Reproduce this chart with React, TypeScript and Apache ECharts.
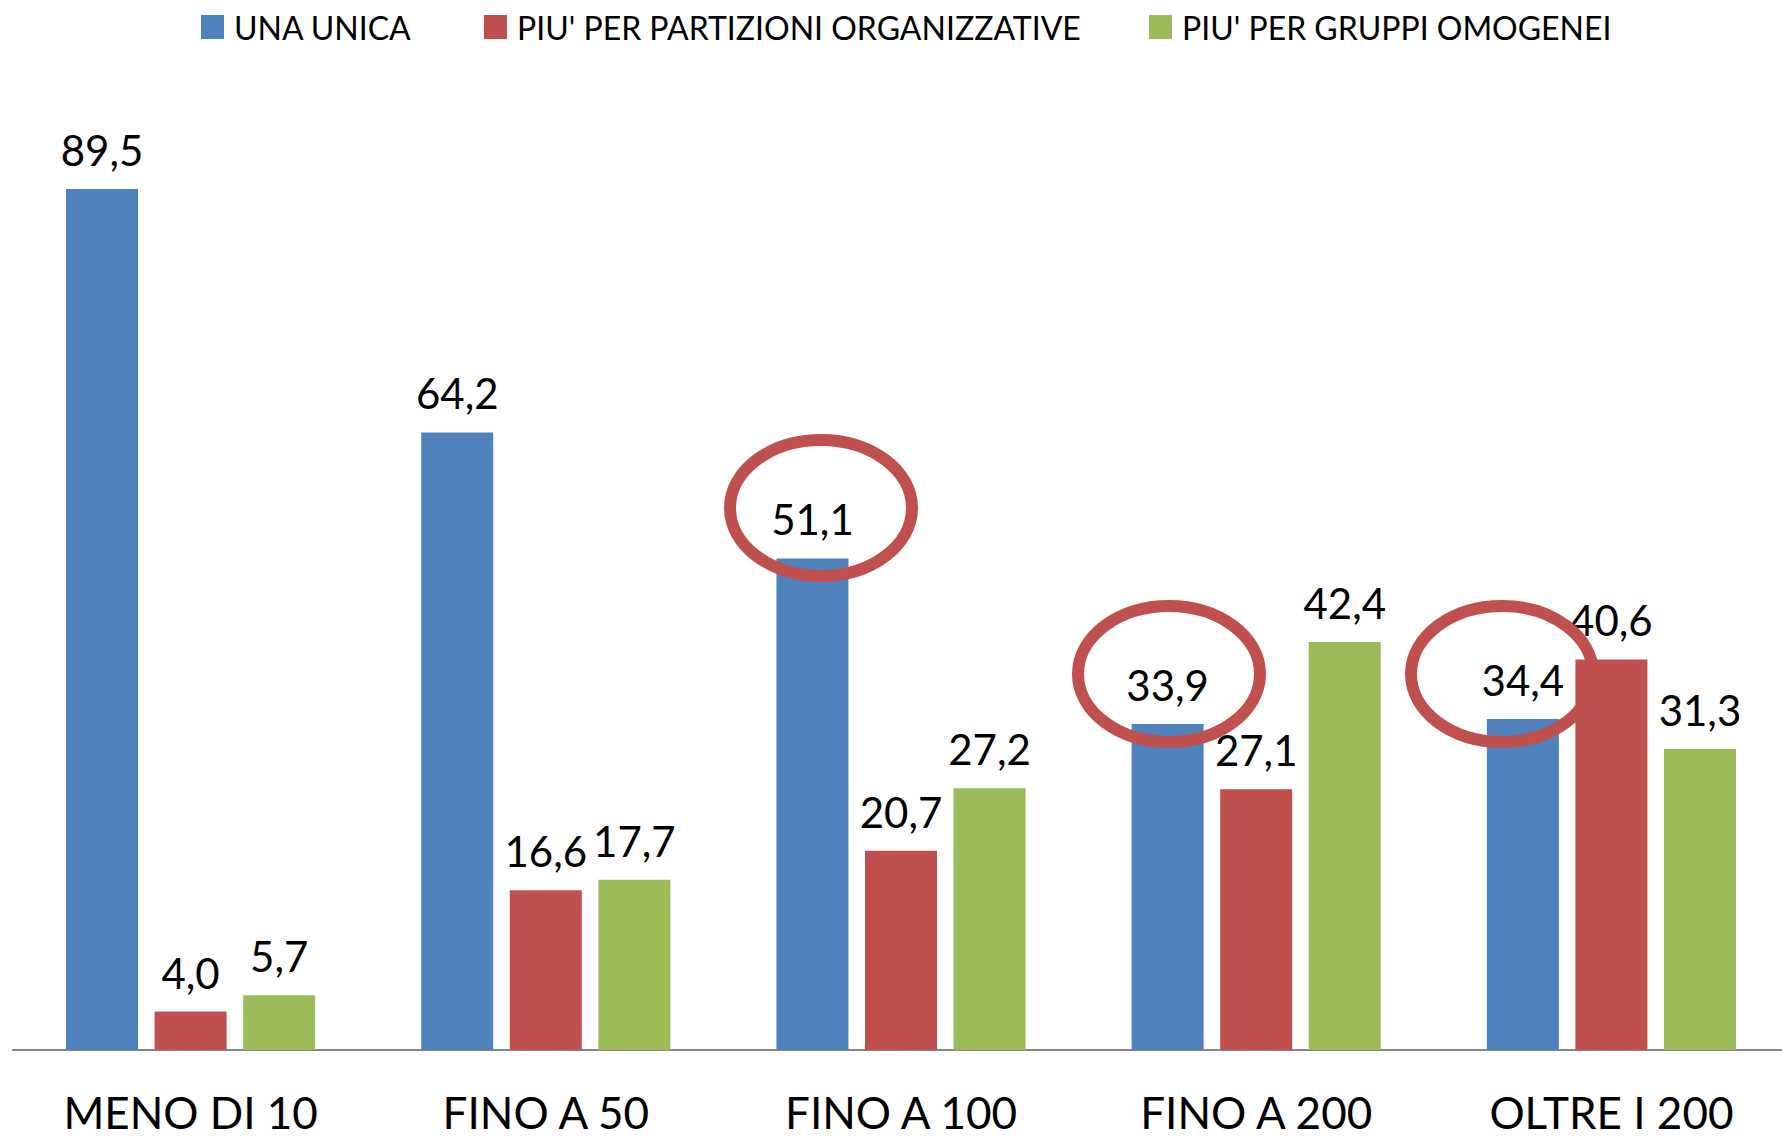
import React, { useEffect, useRef } from "react";
import * as echarts from "echarts";

const categories = ["MENO DI 10", "FINO A 50", "FINO A 100", "FINO A 200", "OLTRE I 200"];
const seriesNames = ["UNA UNICA", "PIU' PER PARTIZIONI ORGANIZZATIVE", "PIU' PER GRUPPI OMOGENEI"];
const unaUnica = [89.5, 64.2, 51.1, 33.9, 34.4];
const partizioni = [4.0, 16.6, 20.7, 27.1, 40.6];
const gruppi = [5.7, 17.7, 27.2, 42.4, 31.3];
const colors = ["#4F81BD", "#C0504D", "#9BBB59"];

const FONT = "Lato, 'Noto Sans', sans-serif";

export default function App() {
  const ref = useRef<HTMLDivElement>(null);
  useEffect(() => {
    if (!ref.current) return;
    const chart = echarts.init(ref.current, undefined, { renderer: "svg" });
    const values = [unaUnica, partizioni, gruppi];
    const legendLefts = [201, 484, 1149];
    const ellipses = [
      { cx: 821, cy: 508 },
      { cx: 1169, cy: 674 },
      { cx: 1502, cy: 674 },
    ];
    chart.setOption({
      animation: false,
      backgroundColor: "#ffffff",
      legend: seriesNames.map((n, i) => ({
        data: [n],
        left: legendLefts[i],
        top: 11,
        padding: 0,
        icon: "rect",
        itemWidth: 23,
        itemHeight: 24,
        selectedMode: false,
        textStyle: {
          fontFamily: FONT,
          fontSize: 32,
          lineHeight: 32,
          color: "#000",
          padding: [0, 0, 0, 5],
        },
      })),
      grid: { left: 13, top: 88, width: 1776, height: 962, containLabel: false },
      xAxis: {
        type: "category",
        data: categories,
        axisLine: { show: true, lineStyle: { color: "#868686", width: 2 } },
        axisTick: { show: false },
        axisLabel: {
          fontFamily: FONT,
          fontSize: 44,
          lineHeight: 40,
          color: "#000",
          margin: 42,
          interval: 0,
        },
      },
      yAxis: {
        type: "value",
        min: 0,
        max: 100,
        show: false,
        splitLine: { show: false },
      },
      series: seriesNames.map((n, i) => ({
        name: n,
        type: "bar",
        data: values[i],
        barWidth: 72,
        barGap: "23%",
        itemStyle: { color: colors[i] },
        label: {
          show: true,
          position: "top",
          distance: 18,
          fontFamily: FONT,
          fontSize: 42,
          color: "#000",
          formatter: (p: any) => Number(p.value).toFixed(1).replace(".", ","),
        },
      })),
      graphic: ellipses.map((e) => ({
        type: "ellipse",
        shape: { cx: e.cx, cy: e.cy, rx: 91, ry: 68 },
        style: { fill: "none", stroke: "#C0504D", lineWidth: 12 },
        z: 100,
      })),
    });
    return () => chart.dispose();
  }, []);
  return (
    <div style={{ position: "fixed", left: 0, top: 0, width: 1782, height: 1140, overflow: "hidden" }}>
      <div
        ref={ref}
        style={{ position: "absolute", left: 0, top: 0, width: 1800, height: 1140 }}
      />
    </div>
  );
}
